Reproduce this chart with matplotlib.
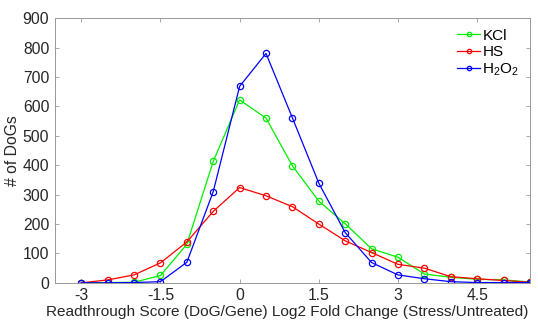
import numpy as np
from matplotlib import pyplot as plt

plt.rcParams['font.family'] = ['Liberation Sans', 'DejaVu Sans']
plt.rcParams['mathtext.default'] = 'regular'

score = [-3, -2.5, -2, -1.5, -1, -0.5, 0, 0.5, 1, 1.5, 2, 2.5, 3, 3.5, 4, 4.5, 5, 5.5]
kcl = [1, 1, 2, 25, 131, 413, 622, 560, 398, 278, 201, 116, 87, 30, 19, 12, 10, 3]
hs = [0, 10, 27, 68, 139, 243, 324, 296, 259, 200, 143, 103, 63, 50, 21, 14, 8, 2]
h2o2 = [0, 0, 1, 4, 70, 310, 668, 780, 561, 339, 171, 69, 27, 14, 4, 1, 1, 1]

xticks = [-3, -1.5, 0, 1.5, 3, 4.5]
xticklabels = ['-3', '-1.5', '0', '1.5', '3', '4.5']

fig = plt.figure(figsize=(5.38, 3.24), dpi=100)
ax = fig.add_axes([0.102, 0.127, 0.883, 0.817])

mk = dict(marker='o', markersize=4.5, markerfacecolor='none', lw=0.9, mew=0.9)
ax.plot(score, kcl, color='#00ee00', label='KCl', **mk)
ax.plot(score, hs, color='#ff0000', label='HS', **mk)
ax.plot(score, h2o2, color='#0000ff', label=r'H$_2$O$_2$', **mk)

ax.set_xlim(-3.5, 5.5)
ax.set_ylim(0, 900)
ax.set_xticks(xticks)
ax.set_xticklabels(xticklabels)
ax.set_yticks(np.arange(0, 901, 100))
ax.tick_params(direction='in', top=True, right=True, length=3, color='#999999',
               labelcolor='#262626', labelsize=11.3, pad=4, width=0.6)
for s in ax.spines.values():
  s.set_color('#999999')
  s.set_linewidth(0.7)

ax.set_xlabel('Readthrough Score (DoG/Gene) Log2 Fold Change (Stress/Untreated)',
              fontsize=11.1, color='#262626', labelpad=1)
ax.xaxis.set_label_coords(0.49, -0.085)
ax.set_ylabel('# of DoGs', fontsize=11.3, color='#262626', labelpad=2)

leg = ax.legend(loc='upper right', frameon=False, fontsize=11, handlelength=1.5,
                handletextpad=0.15, labelspacing=0.15, borderaxespad=0.3,
                markerscale=0.7)

fig.savefig('out.png', dpi=100)
